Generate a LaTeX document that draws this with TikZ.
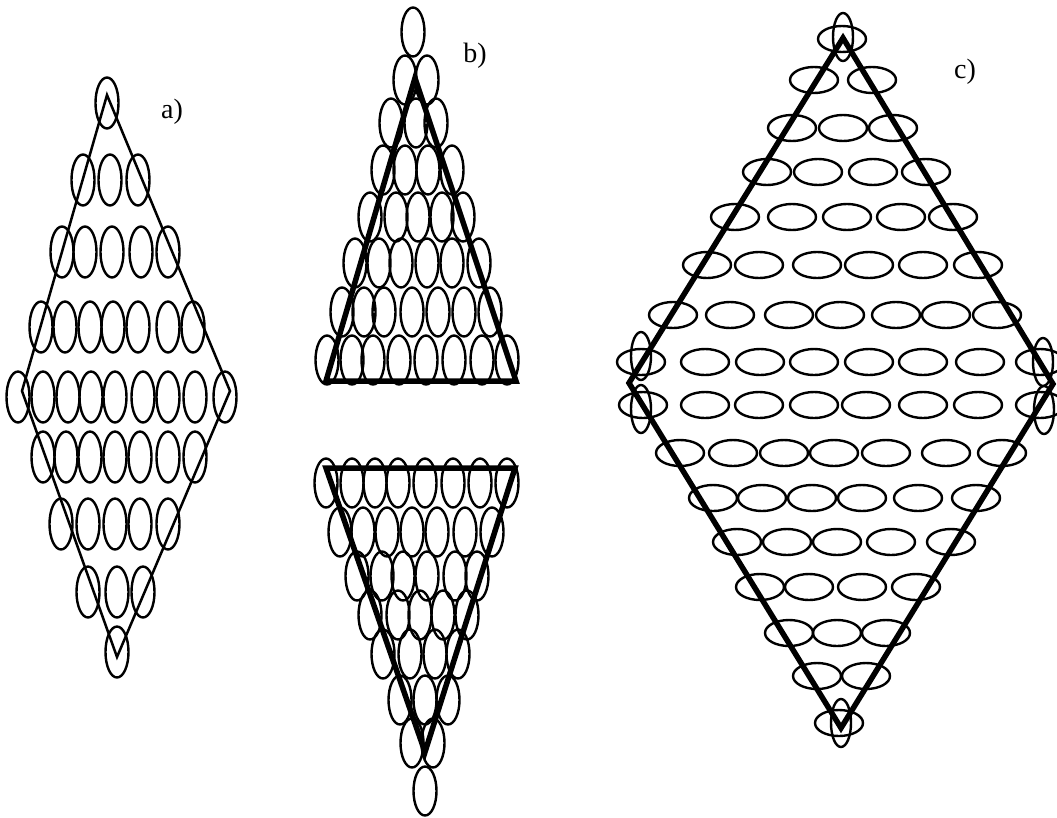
\documentclass[tikz,border=0pt]{standalone}
\usepackage{fontspec}
\setmainfont{Liberation Serif}
\newcommand\rowA[2]{\foreach \xx in {#2}{\draw[ell] (\xx,#1) ellipse [x radius=11.5pt,y radius=25.5pt];}}
\newcommand\rowB[2]{\foreach \xx in {#2}{\draw[ell] (\xx,#1) ellipse [x radius=11.5pt,y radius=24.5pt];}}
\newcommand\rowC[2]{\foreach \xx in {#2}{\draw[ell] (\xx,#1) ellipse [x radius=24pt,y radius=13pt];}}
\newcommand\vellC[2]{\draw[ell] (#1,#2) ellipse [x radius=10pt,y radius=24pt];}
\begin{document}
\begin{tikzpicture}[x=1pt,y=-1pt,
  ell/.style={line width=2.4pt},
  thinedge/.style={line width=2.5pt,line join=miter},
  thickedge/.style={line width=5.5pt,line join=miter},
  lab/.style={font=\fontsize{28}{32}\selectfont,inner sep=0pt}]
\useasboundingbox (0,0) rectangle (1057,817);
% ---------- a) ----------
\rowA{103}{107}
\rowA{180}{83,110,138}
\rowA{252}{62,85,112,141,168}
\rowA{327}{41,65,90,113,138,168,193}
\rowA{397}{18,43,68,91,115,143,168,195,225}
\rowA{457}{43,66,90,115,140,168,195}
\rowA{524}{61,88,115,140,168}
\rowA{592}{88,117,143}
\rowA{652}{117}
\coordinate (aT) at (107,95);
\coordinate (aL) at (22,391);
\coordinate (aR) at (230,391);
\coordinate (aB) at (117,657);
\draw[thinedge] (aT) -- (aR) -- (aB) -- (aL) -- cycle;
\node[lab] (la) at (172,112) {a)};
% ---------- b) upper ----------
\rowB{32}{413}
\rowB{80}{405,427}
\rowB{123}{391,416,436}
\rowB{170}{383,405,428,452}
\rowB{217}{370,396,418,442,463}
\rowB{263}{355,379,401,427,452,479}
\rowB{312}{342,364,384,412,438,464,490}
\rowB{360}{327,352,373,399,426,454,482,507}
\coordinate (bT) at (415,78);
\coordinate (bL) at (326,381);
\coordinate (bR) at (516,381);
\draw[thickedge] (bT) -- (bR) -- (bL) -- cycle;
\node[lab] (lb) at (475,56) {b)};
% ---------- b) lower ----------
\rowB{483}{326,352,375,398,425,453,480,507}
\rowB{532}{340,363,387,412,437,465,492}
\rowB{576}{357,382,403,427,455,477}
\rowB{615}{370,398,420,443,467}
\rowB{654}{383,410,435,458}
\rowB{700}{400,425,448}
\rowB{743}{412,433}
\rowB{791}{425}
\coordinate (bbL) at (326,468);
\coordinate (bbR) at (515,468);
\coordinate (bbB) at (425,752);
\draw[thickedge] (bbL) -- (bbR) -- (bbB) -- cycle;
% ---------- c) ----------
\rowC{39}{842}
\vellC{843}{37}
\rowC{80}{814,872}
\rowC{128}{792,843,893}
\rowC{172}{767,818,873,926}
\rowC{217}{735,792,847,901,953}
\rowC{265}{707,759,817,869,923,978}
\rowC{315}{673,730,789,840,896,946,997}
\rowC{362}{641,705,760,814,869,923,980,1040}
\vellC{641}{356}
\vellC{1043}{362}
\rowC{405}{643,705,759,814,866,923,978,1040}
\vellC{641}{409}
\vellC{1044}{410}
\rowC{453}{680,733,784,834,886,946,1002}
\rowC{498}{713,762,812,862,918,976}
\rowC{542}{737,787,837,891,951}
\rowC{587}{760,809,862,916}
\rowC{633}{789,837,886}
\rowC{676}{817,866}
\rowC{723}{839}
\vellC{841}{723}
\coordinate (cT) at (843,38);
\coordinate (cL) at (629,383);
\coordinate (cR) at (1053,384);
\coordinate (cB) at (841,728);
\draw[thickedge] (cT) -- (cR) -- (cB) -- (cL) -- cycle;
\node[lab] (lc) at (965,72) {c)};
\end{tikzpicture}
\end{document}
